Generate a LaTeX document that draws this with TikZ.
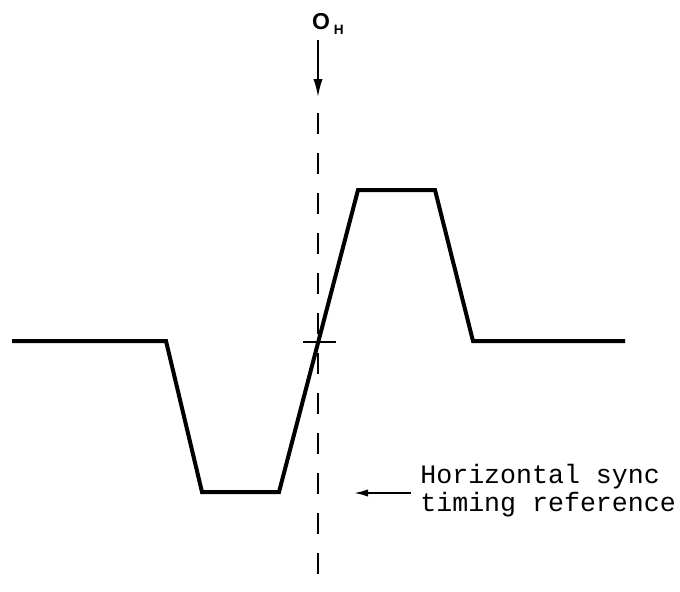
\documentclass[tikz,border=0pt]{standalone}
\usepackage{fontspec}
\newfontfamily\typefont{Liberation Mono}
\newfontfamily\labelfont{Liberation Sans}
\usetikzlibrary{arrows.meta,positioning}

\begin{document}
\begin{tikzpicture}[
  x=0.5pt, y=-0.5pt,
  wave/.style={line width=2pt, line join=miter},
  refline/.style={line width=1pt, dash pattern=on 10.5pt off 9.5pt},
  arr/.style={-{Latex[length=7pt,width=3.6pt]}, line width=0.9pt},
  note/.style={font=\typefont\fontsize{13.3}{14}\selectfont, align=left, inner sep=0pt}
]
  \useasboundingbox (0,0) rectangle (680,591);
  % sync pulse
  \coordinate (l0) at (12,341);
  \coordinate (l1) at (166,341);
  \coordinate (b0) at (202,492);
  \coordinate (b1) at (279,492);
  \coordinate (t0) at (358,190);
  \coordinate (t1) at (435,190);
  \coordinate (r0) at (473,341);
  \coordinate (r1) at (625,341);
  \draw[wave] (l0) -- (l1) -- (b0) -- (b1) -- (t0) -- (t1) -- (r0) -- (r1);
  % timing reference line
  \coordinate (reftop) at (318,113);
  \coordinate (refbot) at (318,588);
  \draw[refline] (reftop) -- (refbot);
  \coordinate (tickl) at (303,342);
  \coordinate (tickr) at (336,342);
  \draw[line width=1pt] (tickl) -- (tickr);
  % labels
  \node[font=\labelfont\bfseries\fontsize{11.5}{11.5}\selectfont, inner sep=1pt] (oh) at (328,24)
    {O\,\raisebox{-2.6pt}{\fontsize{6.8}{6.8}\selectfont H}};
  \coordinate (ohtip) at (318,97);
  \draw[arr, -{Latex[length=9pt,width=4.6pt]}] ([yshift=-1.5pt]oh.south -| ohtip) -- (ohtip);
  \node[note, anchor=west] (sync) at (420,491) {Horizontal sync\\timing reference};
  \coordinate (synctip) at (354,493);
  \draw[arr] ([xshift=-4.5pt]sync.west |- synctip) -- (synctip);
\end{tikzpicture}
\end{document}
